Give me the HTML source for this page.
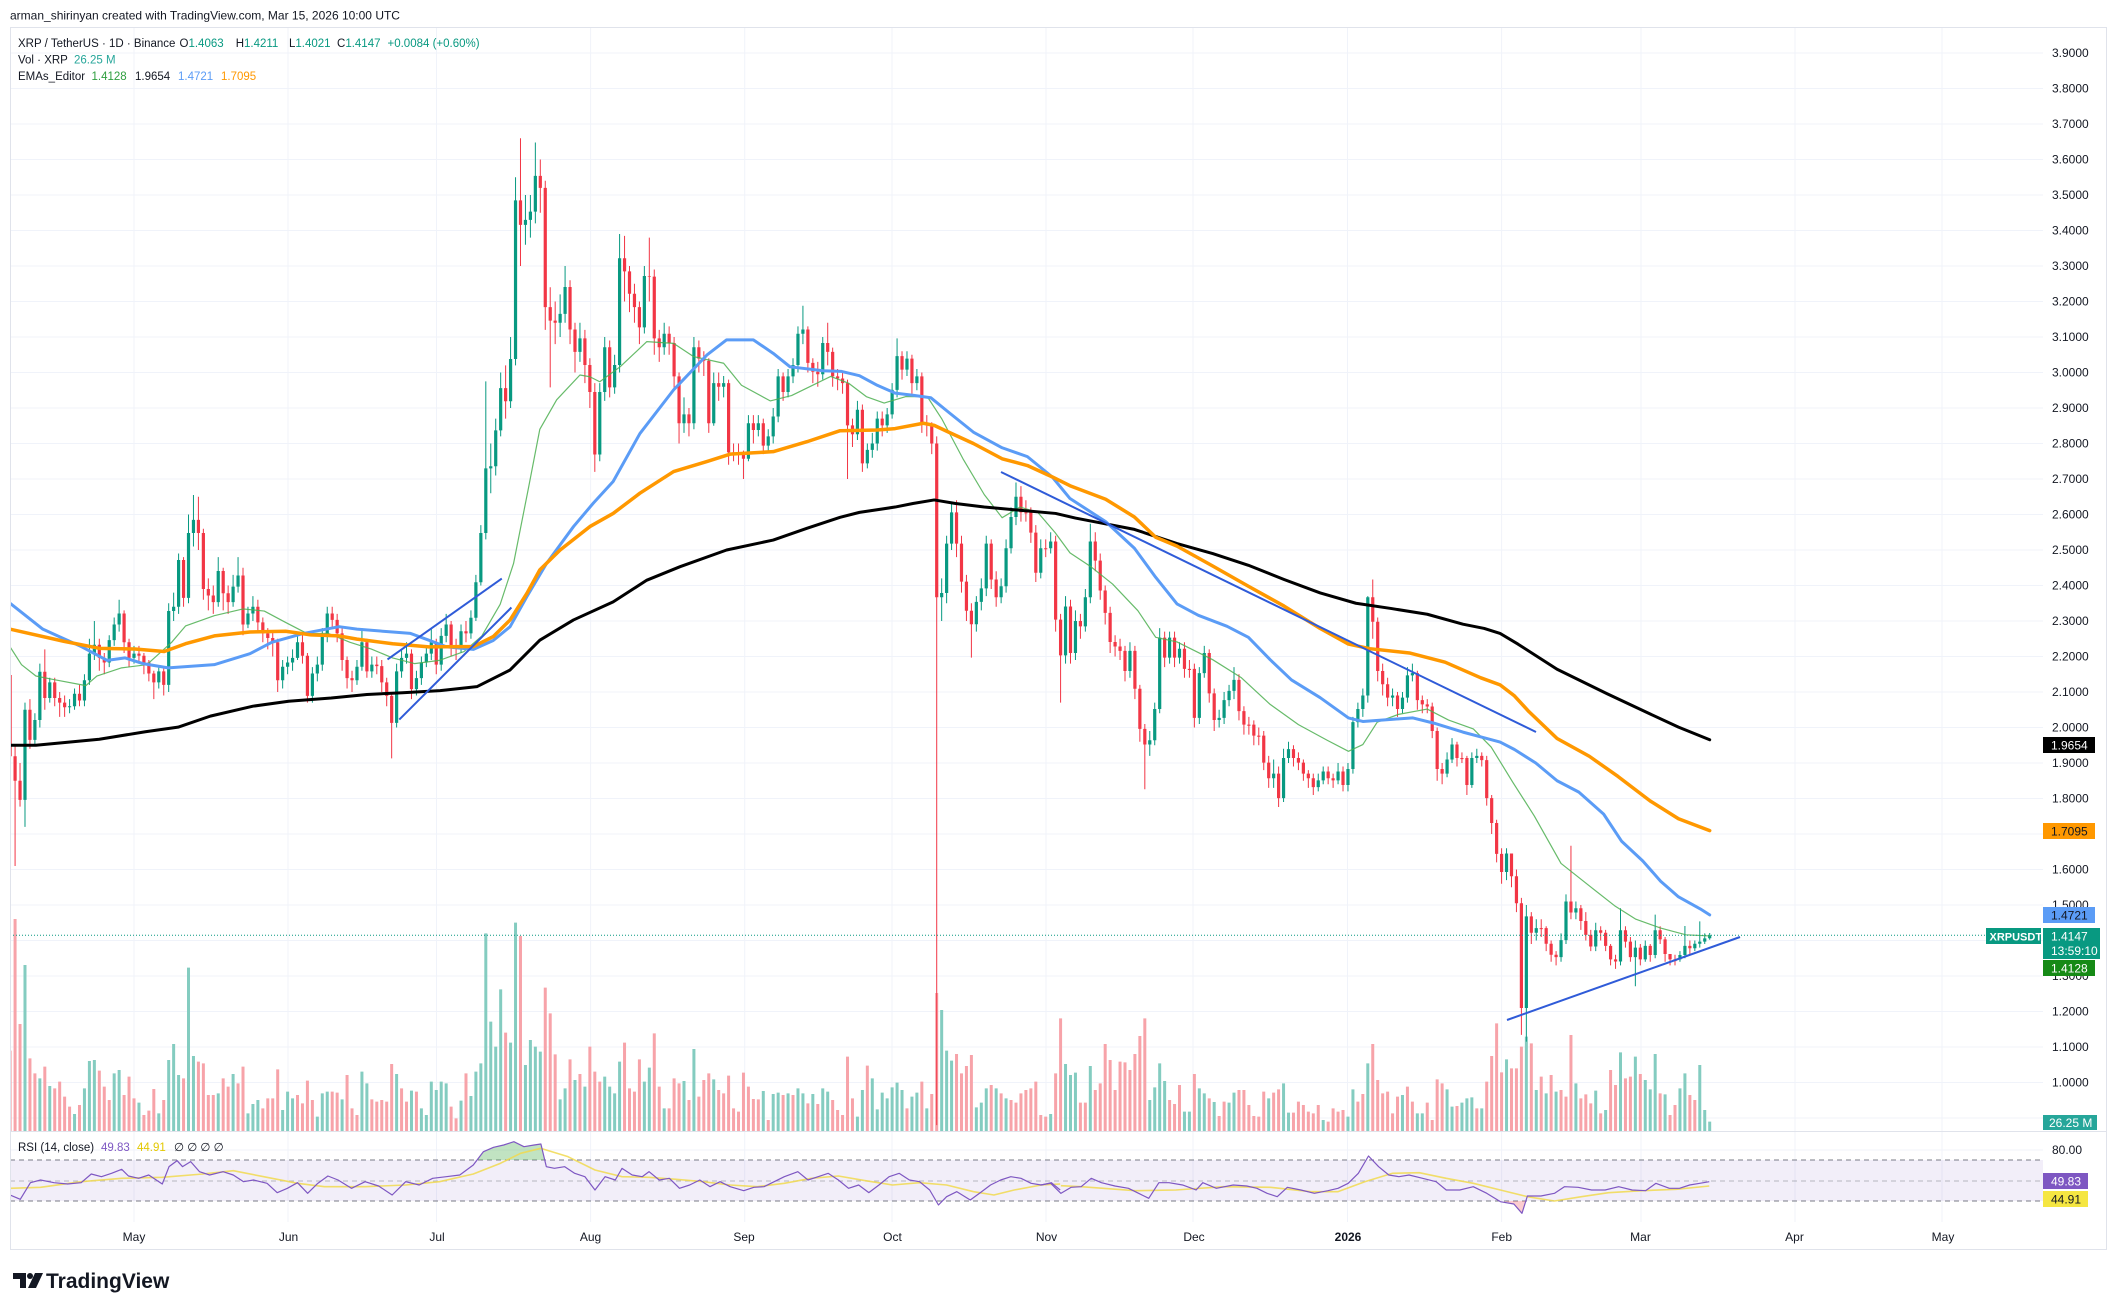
<!DOCTYPE html>
<html><head><meta charset="utf-8">
<style>
html,body{margin:0;padding:0;background:#fff;}
svg{display:block;}
text{font-family:"Liberation Sans",Arial,sans-serif;}
</style></head>
<body>
<svg width="2119" height="1311" viewBox="0 0 2119 1311" xmlns="http://www.w3.org/2000/svg">
<rect width="2119" height="1311" fill="#ffffff"/>
<defs>
<clipPath id="cm"><rect x="10" y="27" width="2033" height="1104"/></clipPath>
<clipPath id="cr"><rect x="10" y="1131" width="2033" height="90"/></clipPath>
</defs>

<!-- grid -->
<g stroke="#f0f3fa" stroke-width="1">
<line x1="10" y1="53" x2="2043" y2="53"/><line x1="10" y1="88.5" x2="2043" y2="88.5"/><line x1="10" y1="124" x2="2043" y2="124"/><line x1="10" y1="159.5" x2="2043" y2="159.5"/><line x1="10" y1="195" x2="2043" y2="195"/><line x1="10" y1="230.5" x2="2043" y2="230.5"/><line x1="10" y1="266" x2="2043" y2="266"/><line x1="10" y1="301.5" x2="2043" y2="301.5"/><line x1="10" y1="337" x2="2043" y2="337"/><line x1="10" y1="372.5" x2="2043" y2="372.5"/><line x1="10" y1="408" x2="2043" y2="408"/><line x1="10" y1="443.5" x2="2043" y2="443.5"/><line x1="10" y1="479" x2="2043" y2="479"/><line x1="10" y1="514.5" x2="2043" y2="514.5"/><line x1="10" y1="550" x2="2043" y2="550"/><line x1="10" y1="585.5" x2="2043" y2="585.5"/><line x1="10" y1="621" x2="2043" y2="621"/><line x1="10" y1="656.5" x2="2043" y2="656.5"/><line x1="10" y1="692" x2="2043" y2="692"/><line x1="10" y1="727.5" x2="2043" y2="727.5"/><line x1="10" y1="763" x2="2043" y2="763"/><line x1="10" y1="798.5" x2="2043" y2="798.5"/><line x1="10" y1="834" x2="2043" y2="834"/><line x1="10" y1="869.5" x2="2043" y2="869.5"/><line x1="10" y1="905" x2="2043" y2="905"/><line x1="10" y1="940.5" x2="2043" y2="940.5"/><line x1="10" y1="976" x2="2043" y2="976"/><line x1="10" y1="1011.5" x2="2043" y2="1011.5"/><line x1="10" y1="1047" x2="2043" y2="1047"/><line x1="10" y1="1082.5" x2="2043" y2="1082.5"/><line x1="10" y1="1118" x2="2043" y2="1118"/><line x1="10" y1="1150" x2="2043" y2="1150"/>
<line x1="134" y1="27" x2="134" y2="1222"/><line x1="288" y1="27" x2="288" y2="1222"/><line x1="436.5" y1="27" x2="436.5" y2="1222"/><line x1="590.6" y1="27" x2="590.6" y2="1222"/><line x1="744.7" y1="27" x2="744.7" y2="1222"/><line x1="892" y1="27" x2="892" y2="1222"/><line x1="1046" y1="27" x2="1046" y2="1222"/><line x1="1193" y1="27" x2="1193" y2="1222"/><line x1="1347.5" y1="27" x2="1347.5" y2="1222"/><line x1="1501.6" y1="27" x2="1501.6" y2="1222"/><line x1="1641" y1="27" x2="1641" y2="1222"/><line x1="1795" y1="27" x2="1795" y2="1222"/><line x1="1942" y1="27" x2="1942" y2="1222"/>
</g>

<!-- RSI band -->
<rect x="10" y="1160" width="2033" height="41" fill="#7e57c2" fill-opacity="0.1"/>
<g stroke="#787b86" stroke-width="1" stroke-dasharray="5,4">
<line x1="10" y1="1160" x2="2043" y2="1160"/>
<line x1="10" y1="1181" x2="2043" y2="1181" stroke-opacity="0.5"/>
<line x1="10" y1="1201" x2="2043" y2="1201"/>
</g>

<!-- volume -->
<g clip-path="url(#cm)">
<g transform="matrix(4.955 0 0 0.333333 134 900)" fill="none" stroke-width="3">
<path vector-effect="non-scaling-stroke" stroke="#84ccc0" d="M-22 693V195M-19 693V535M-17 693V558M-12 693V642M-10 693V565M-9 693V483M-8 693V480M-4 693V520M-3 693V510M1 693V608M5 693V640M7 693V480M8 693V432M9 693V525M11 693V203M12 693V468M17 693V580M20 693V522M23 693V640M24 693V612M25 693V600M30 693V630M31 693V575M32 693V595M37 693V650M38 693V580M39 693V575M42 693V598M46 693V515M47 693V550M53 693V522M56 693V572M58 693V625M59 693V645M60 693V545M61 693V570M62 693V545M63 693V550M66 693V602M68 693V588M69 693V515M70 693V490M71 693V100M72 693V365M73 693V440M74 693V268M76 693V428M77 693V68M79 693V495M80 693V420M81 693V440M82 693V455M86 693V598M87 693V565M89 693V540M91 693V560M95 693V530M96 693V560M97 693V580M98 693V485M103 693V545M104 693V503M107 693V625M111 693V543M113 693V447M117 693V538M127 693V573M129 693V582M130 693V578M132 693V580M134 693V565M135 693V580M137 693V582M139 693V565M140 693V575M146 693V650M147 693V570M149 693V535M150 693V628M151 693V578M152 693V595M153 693V562M154 693V548M155 693V570M157 693V590M158 693V578M160 693V625M163 693V330M164 693V452M165 693V482M170 693V622M171 693V608M172 693V565M174 693V565M176 693V595M185 693V642M188 693V492M189 693V525M190 693V518M193 693V498M205 693V600M206 693V562M207 693V490M208 693V543M212 693V635M213 693V635M215 693V565M216 693V580M218 693V606M221 693V608M222 693V578M229 693V595M232 693V550M233 693V638M240 693V660M245 693V650M246 693V568M249 693V490M256 693V585M259 693V640M260 693V640M265 693V568M266 693V620M268 693V608M269 693V595M270 693V592M272 693V625M277 693V478M281 693V410M283 693V570M285 693V580M287 693V575M291 693V550M295 693V572M297 693V630M300 693V457M303 693V470M305 693V540M306 693V568M307 693V462M309 693V583M312 693V565M313 693V520M316 693V495M317 693V630M318 693V665"/>
<path vector-effect="non-scaling-stroke" stroke="#f7a3a9" d="M-25 693V452M-24 693V57M-23 693V372M-21 693V475M-20 693V520M-18 693V500M-16 693V565M-15 693V545M-14 693V590M-13 693V620M-11 693V615M-7 693V512M-6 693V560M-5 693V600M-2 693V585M-1 693V530M0 693V595M2 693V645M3 693V632M4 693V567M6 693V600M10 693V535M13 693V485M14 693V490M15 693V585M16 693V585M18 693V535M19 693V560M21 693V550M22 693V500M26 693V625M27 693V595M28 693V595M29 693V508M33 693V585M34 693V610M35 693V542M36 693V600M40 693V575M41 693V578M43 693V525M44 693V625M45 693V645M48 693V598M49 693V605M50 693V600M51 693V605M52 693V492M54 693V565M55 693V605M57 693V575M64 693V620M65 693V655M67 693V520M75 693V398M78 693V108M83 693V263M84 693V340M85 693V463M88 693V478M90 693V522M92 693V440M93 693V515M94 693V545M99 693V428M100 693V565M101 693V575M102 693V478M105 693V400M106 693V560M108 693V625M109 693V535M110 693V550M112 693V600M114 693V590M115 693V540M116 693V520M118 693V570M119 693V580M120 693V527M121 693V625M122 693V635M123 693V518M124 693V560M125 693V597M126 693V598M128 693V660M131 693V585M133 693V585M136 693V610M138 693V612M141 693V600M142 693V630M143 693V645M144 693V470M145 693V595M148 693V497M156 693V625M159 693V545M161 693V582M162 693V279M166 693V462M167 693V520M168 693V498M169 693V465M173 693V555M175 693V580M177 693V600M178 693V608M179 693V580M180 693V570M181 693V565M182 693V545M183 693V645M184 693V650M186 693V520M187 693V355M191 693V608M192 693V608M194 693V570M195 693V550M196 693V432M197 693V480M198 693V570M199 693V485M200 693V487M201 693V510M202 693V462M203 693V408M204 693V355M209 693V600M210 693V612M211 693V555M214 693V522M217 693V595M219 693V648M220 693V605M223 693V570M224 693V570M225 693V615M226 693V648M227 693V650M228 693V575M230 693V578M231 693V568M234 693V638M235 693V605M236 693V615M237 693V635M238 693V640M239 693V615M241 693V665M242 693V625M243 693V635M244 693V630M247 693V605M248 693V582M250 693V432M251 693V540M252 693V580M253 693V575M254 693V640M255 693V590M257 693V560M258 693V605M261 693V608M262 693V660M263 693V538M264 693V550M267 693V618M271 693V625M273 693V545M274 693V468M275 693V370M276 693V517M278 693V505M279 693V505M280 693V440M282 693V430M284 693V530M286 693V525M288 693V570M289 693V590M290 693V405M292 693V595M293 693V583M294 693V610M296 693V640M298 693V510M299 693V555M301 693V535M302 693V530M304 693V522M308 693V580M310 693V645M311 693V615M314 693V585M315 693V600"/>
</g>
</g>

<!-- candles -->
<g clip-path="url(#cm)">
<g transform="matrix(4.955 0 0 -355 134 1437.5)" fill="none">
<path vector-effect="non-scaling-stroke" stroke="#089981" stroke-width="1" d="M-22 1.72V2.07M-20 1.95V2.04M-19 2V2.18M-17 2.07V2.14M-13 2.04V2.08M-12 2.05V2.11M-10 2.06V2.15M-9 2.12V2.25M-8 2.19V2.3M-5 2.17V2.26M-4 2.23V2.31M-3 2.27V2.36M0 2.18V2.23M5 2.11V2.17M7 2.1V2.35M8 2.3V2.38M9 2.32V2.49M11 2.35V2.6M12 2.51V2.655M17 2.34V2.48M20 2.34V2.43M21 2.38V2.48M23 2.28V2.34M24 2.3V2.37M30 2.11V2.19M31 2.15V2.2M32 2.16V2.22M33 2.19V2.27M36 2.07V2.17M37 2.13V2.2M38 2.16V2.28M39 2.24V2.34M45 2.12V2.19M46 2.16V2.28M48 2.14V2.2M53 2V2.18M54 2.14V2.22M55 2.18V2.24M57 2.09V2.16M58 2.12V2.2M59 2.17V2.23M60 2.19V2.28M62 2.16V2.28M63 2.24V2.32M66 2.21V2.29M68 2.25V2.33M69 2.3V2.43M70 2.4V2.57M71 2.53V2.975M72 2.66V2.8M73 2.71V2.87M74 2.82V3M76 2.9V3.1M77 3.02V3.55M79 3.36V3.5M80 3.38V3.5M81 3.42V3.648M86 3.1V3.22M87 3.14V3.3M90 3.03V3.14M94 2.75V2.97M95 2.92V3.1M97 2.94V3.05M98 3V3.39M103 3.11V3.3M107 3.05V3.14M111 2.83V2.93M113 2.84V3.1M117 2.85V3M119 2.93V2.99M124 2.75V2.88M126 2.82V2.88M128 2.78V2.84M129 2.8V2.9M130 2.86V3.01M132 2.93V3.01M133 2.97V3.04M134 3V3.13M135 3.08V3.188M139 2.98V3.1M146 2.81V2.92M148 2.73V2.8M149 2.76V2.83M150 2.78V2.89M152 2.83V2.9M153 2.87V2.97M154 2.93V3.096M156 2.99V3.06M158 2.95V3.01M163 2.3V2.42M164 2.35V2.54M165 2.5V2.63M170 2.27V2.37M171 2.33V2.42M172 2.37V2.54M175 2.35V2.42M176 2.38V2.53M177 2.49V2.62M178 2.57V2.69M183 2.42V2.53M185 2.49V2.55M188 2.18V2.37M190 2.19V2.33M192 2.27V2.39M193 2.35V2.574M201 2.14V2.24M205 1.92V1.99M206 1.95V2.07M207 2.04V2.28M209 2.18V2.27M211 2.18V2.24M215 2.01V2.17M216 2.14V2.23M219 2V2.05M220 2.01V2.1M221 2.06V2.12M222 2.08V2.17M230 1.83V1.91M232 1.79V1.94M233 1.9V1.96M239 1.82V1.87M240 1.84V1.89M243 1.84V1.9M245 1.82V1.9M246 1.87V2.03M247 2V2.07M248 2.03V2.11M249 2.07V2.37M254 2.06V2.11M256 2.04V2.1M257 2.07V2.17M258 2.13V2.18M265 1.86V1.93M266 1.9V1.97M270 1.83V1.93M271 1.9V1.94M277 1.57V1.66M281 1.115V1.5M283 1.4V1.46M288 1.34V1.42M289 1.39V1.53M291 1.46V1.51M295 1.37V1.45M300 1.33V1.491M303 1.271V1.4M305 1.34V1.4M307 1.35V1.473M312 1.34V1.37M313 1.35V1.441M315 1.37V1.4M316 1.38V1.454M317 1.39V1.42M318 1.4021V1.4211"/>
<path vector-effect="non-scaling-stroke" stroke="#f23645" stroke-width="1" d="M-25 1.862V2.16M-24 1.61V1.95M-23 1.777V1.9M-21 1.94V2.08M-18 2.05V2.22M-16 2.06V2.14M-15 2.03V2.1M-14 2.03V2.09M-11 2.06V2.12M-7 2.16V2.25M-6 2.15V2.21M-2 2.21V2.33M-1 2.17V2.25M1 2.18V2.23M2 2.15V2.21M3 2.13V2.19M4 2.08V2.16M6 2.09V2.17M10 2.34V2.48M13 2.5V2.65M14 2.36V2.56M15 2.33V2.42M16 2.32V2.4M18 2.33V2.45M19 2.32V2.4M22 2.26V2.45M25 2.27V2.36M26 2.24V2.31M27 2.22V2.28M28 2.2V2.27M29 2.1V2.25M34 2.18V2.26M35 2.07V2.21M40 2.28V2.34M41 2.24V2.32M42 2.16V2.28M43 2.11V2.2M44 2.1V2.16M47 2.14V2.25M49 2.15V2.2M50 2.1V2.19M51 2.06V2.14M52 1.913V2.1M56 2.08V2.22M61 2.15V2.25M64 2.2V2.3M65 2.19V2.25M67 2.24V2.3M75 2.87V3.02M78 3.3V3.66M82 3.45V3.6M83 3.12V3.54M84 2.958V3.24M85 3.08V3.2M88 3.08V3.26M89 3V3.14M91 2.97V3.12M92 2.9V3.04M93 2.72V2.97M96 2.93V3.09M99 3.2V3.385M100 3.17V3.3M101 3.14V3.25M102 3.08V3.2M104 3.2V3.38M105 3.05V3.29M106 3.03V3.12M108 3.05V3.13M109 2.95V3.1M110 2.8V3M112 2.82V2.9M114 3V3.09M115 2.99V3.06M116 2.83V3.04M118 2.92V3M120 2.74V2.98M121 2.75V2.8M122 2.74V2.8M123 2.7V2.78M125 2.8V2.88M127 2.77V2.87M131 2.92V3M136 3V3.13M137 2.97V3.04M138 2.96V3.03M140 3.02V3.14M141 2.96V3.07M142 2.95V3.01M143 2.94V3M144 2.7V2.98M145 2.79V2.87M147 2.72V2.91M151 2.82V2.89M155 2.98V3.06M157 2.94V3.05M159 2.83V3M160 2.82V2.88M161 2.77V2.86M162 0.88V2.82M166 2.48V2.64M167 2.38V2.54M168 2.3V2.43M169 2.197V2.35M173 2.39V2.53M174 2.34V2.44M179 2.58V2.68M180 2.58V2.64M181 2.52V2.62M182 2.41V2.57M184 2.48V2.53M186 2.27V2.54M187 2.07V2.32M189 2.18V2.36M191 2.25V2.32M194 2.44V2.55M195 2.36V2.49M196 2.29V2.4M197 2.21V2.34M198 2.2V2.26M199 2.19V2.25M200 2.13V2.23M202 2.08V2.23M203 1.96V2.12M204 1.826V2.01M208 2.17V2.27M210 2.17V2.27M212 2.14V2.24M213 2.14V2.19M214 2V2.18M217 2.07V2.22M218 1.99V2.11M223 2.02V2.15M224 1.98V2.06M225 1.98V2.03M226 1.95V2.02M227 1.95V2M228 1.88V1.99M229 1.83V1.92M231 1.776V1.89M234 1.89V1.95M235 1.88V1.93M236 1.85V1.91M237 1.83V1.88M238 1.81V1.87M241 1.84V1.89M242 1.83V1.87M244 1.82V1.89M250 2.25V2.417M251 2.13V2.31M252 2.09V2.18M253 2.06V2.14M255 2.03V2.1M259 2.05V2.16M260 2.04V2.09M261 2.04V2.08M262 1.97V2.07M263 1.85V2M264 1.84V1.9M267 1.89V1.96M268 1.9V1.93M269 1.81V1.92M272 1.89V1.93M273 1.78V1.92M274 1.7V1.81M275 1.62V1.74M276 1.56V1.66M278 1.55V1.63M279 1.48V1.6M280 1.134V1.52M282 1.39V1.48M284 1.41V1.46M285 1.37V1.44M286 1.34V1.4M287 1.33V1.37M290 1.46V1.667M292 1.43V1.5M293 1.4V1.48M294 1.37V1.43M296 1.4V1.44M297 1.37V1.43M298 1.33V1.39M299 1.32V1.36M301 1.38V1.44M302 1.34V1.41M304 1.33V1.39M306 1.34V1.39M308 1.39V1.44M309 1.34V1.41M310 1.33V1.36M311 1.33V1.36M314 1.36V1.4"/>
<path vector-effect="non-scaling-stroke" stroke="#089981" stroke-width="3.2" d="M-22 1.796V2.05M-20 1.965V2.021M-19 2.021V2.157M-17 2.083V2.127M-13 2.057V2.06M-12 2.06V2.095M-10 2.076V2.133M-9 2.133V2.208M-8 2.208V2.233M-5 2.183V2.246M-4 2.246V2.29M-3 2.29V2.321M0 2.196V2.208M5 2.127V2.158M7 2.12V2.328M8 2.328V2.34M9 2.34V2.472M11 2.365V2.548M12 2.548V2.585M17 2.353V2.441M20 2.353V2.397M21 2.397V2.428M23 2.29V2.321M24 2.321V2.34M30 2.133V2.171M31 2.171V2.183M32 2.183V2.196M33 2.196V2.24M36 2.089V2.152M37 2.152V2.177M38 2.177V2.258M39 2.258V2.321M45 2.133V2.171M46 2.171V2.24M48 2.158V2.177M53 2.013V2.158M54 2.158V2.196M55 2.196V2.208M57 2.108V2.139M58 2.139V2.183M59 2.183V2.208M60 2.208V2.24M62 2.177V2.258M63 2.258V2.29M66 2.221V2.271M68 2.265V2.309M69 2.309V2.409M70 2.409V2.548M71 2.548V2.73M72 2.73V2.736M73 2.736V2.837M74 2.837V2.956M76 2.919V3.038M77 3.038V3.485M79 3.416V3.43M80 3.43V3.453M81 3.453V3.554M86 3.14V3.165M87 3.165V3.241M90 3.058V3.096M94 2.769V2.945M95 2.945V3.071M97 2.958V3.021M98 3.021V3.322M103 3.127V3.272M107 3.071V3.109M111 2.857V2.882M113 2.857V3.071M117 2.857V2.97M119 2.96V2.97M124 2.757V2.857M126 2.838V2.857M128 2.794V2.82M129 2.82V2.876M130 2.876V2.989M132 2.945V2.989M133 2.989V3.021M134 3.021V3.109M135 3.109V3.121M139 2.995V3.083M146 2.826V2.895M148 2.744V2.782M149 2.782V2.8M150 2.8V2.87M152 2.851V2.882M153 2.882V2.951M154 2.951V3.046M156 3.008V3.039M158 2.97V2.989M163 2.367V2.379M164 2.379V2.518M165 2.518V2.606M170 2.291V2.354M171 2.354V2.392M172 2.392V2.518M175 2.367V2.398M176 2.398V2.505M177 2.505V2.593M178 2.593V2.65M183 2.436V2.505M185 2.505V2.524M188 2.203V2.341M190 2.21V2.3M192 2.285V2.367M193 2.367V2.524M201 2.159V2.216M205 1.952V1.964M206 1.964V2.052M207 2.052V2.253M209 2.197V2.253M211 2.197V2.222M215 2.027V2.153M216 2.153V2.21M219 2.021V2.027M220 2.027V2.077M221 2.077V2.103M222 2.103V2.134M230 1.857V1.87M232 1.801V1.914M233 1.914V1.939M239 1.832V1.851M240 1.851V1.876M243 1.851V1.876M245 1.838V1.883M246 1.883V2.015M247 2.015V2.052M248 2.052V2.09M249 2.09V2.367M254 2.084V2.09M256 2.052V2.084M257 2.084V2.147M258 2.147V2.153M265 1.87V1.91M266 1.91V1.952M270 1.838V1.914M271 1.914V1.92M277 1.593V1.645M281 1.21V1.468M283 1.422V1.435M288 1.353V1.401M289 1.401V1.51M291 1.479V1.491M295 1.383V1.429M300 1.341V1.429M303 1.353V1.38M305 1.347V1.385M307 1.359V1.429M312 1.347V1.359M313 1.359V1.385M315 1.378V1.391M316 1.391V1.397M317 1.397V1.406M318 1.4063V1.4147"/>
<path vector-effect="non-scaling-stroke" stroke="#f23645" stroke-width="3.2" d="M-25 2.148V1.919M-24 1.919V1.85M-23 1.85V1.796M-21 2.05V1.965M-18 2.157V2.083M-16 2.127V2.083M-15 2.083V2.07M-14 2.07V2.057M-11 2.095V2.076M-7 2.233V2.196M-6 2.196V2.183M-2 2.321V2.24M-1 2.24V2.196M1 2.208V2.202M2 2.202V2.183M3 2.183V2.152M4 2.152V2.127M6 2.158V2.12M10 2.472V2.365M13 2.585V2.548M14 2.548V2.39M15 2.39V2.372M16 2.372V2.353M18 2.441V2.378M19 2.378V2.353M22 2.428V2.29M25 2.34V2.296M26 2.296V2.265M27 2.265V2.252M28 2.252V2.24M29 2.24V2.133M34 2.24V2.202M35 2.202V2.089M40 2.321V2.303M41 2.303V2.265M42 2.265V2.19M43 2.19V2.139M44 2.139V2.133M47 2.24V2.158M49 2.177V2.173M50 2.173V2.127M51 2.127V2.089M52 2.089V2.013M56 2.208V2.108M61 2.24V2.177M64 2.29V2.227M65 2.227V2.221M67 2.271V2.265M75 2.956V2.919M78 3.485V3.416M82 3.554V3.52M83 3.52V3.184M84 3.184V3.146M85 3.146V3.14M88 3.241V3.121M89 3.121V3.058M91 3.096V3.021M92 3.021V2.945M93 2.945V2.769M96 3.071V2.958M99 3.322V3.285M100 3.285V3.222M101 3.222V3.184M102 3.184V3.127M104 3.272V3.27M105 3.27V3.096M106 3.096V3.071M108 3.109V3.083M109 3.083V2.989M110 2.989V2.857M112 2.882V2.857M114 3.071V3.039M115 3.039V3.033M116 3.033V2.857M118 2.97V2.96M120 2.97V2.775M121 2.775V2.772M122 2.775V2.769M123 2.769V2.757M125 2.857V2.838M127 2.857V2.794M131 2.989V2.945M136 3.121V3.027M137 3.027V3.002M138 3.002V2.995M140 3.083V3.058M141 3.058V2.989M142 2.989V2.983M143 2.983V2.97M144 2.97V2.851M145 2.851V2.826M147 2.895V2.744M151 2.87V2.851M155 3.046V3.008M157 3.039V2.97M159 2.989V2.857M160 2.857V2.851M161 2.851V2.8M162 2.8V2.367M166 2.606V2.518M167 2.518V2.411M168 2.411V2.329M169 2.329V2.291M173 2.518V2.417M174 2.417V2.367M179 2.65V2.606M180 2.606V2.603M181 2.606V2.549M182 2.549V2.436M184 2.505V2.502M186 2.524V2.304M187 2.304V2.203M189 2.341V2.21M191 2.3V2.285M194 2.524V2.47M195 2.47V2.386M196 2.386V2.323M197 2.323V2.241M198 2.241V2.228M199 2.228V2.216M200 2.216V2.159M202 2.216V2.109M203 2.109V1.996M204 1.996V1.952M208 2.253V2.197M210 2.253V2.197M212 2.222V2.165M213 2.165V2.162M214 2.165V2.027M217 2.21V2.096M218 2.096V2.021M223 2.134V2.046M224 2.046V2.008M225 2.008V2.005M226 2.008V1.977M227 1.977V1.974M228 1.977V1.901M229 1.901V1.857M231 1.87V1.801M234 1.939V1.914M235 1.914V1.901M236 1.901V1.87M237 1.87V1.857M238 1.857V1.832M241 1.876V1.857M242 1.857V1.851M244 1.876V1.838M250 2.367V2.298M251 2.298V2.159M252 2.159V2.122M253 2.122V2.084M255 2.09V2.052M259 2.153V2.077M260 2.077V2.065M261 2.065V2.059M262 2.059V1.99M263 1.99V1.883M264 1.883V1.87M267 1.952V1.914M268 1.914V1.911M269 1.914V1.838M272 1.92V1.908M273 1.908V1.801M274 1.801V1.731M275 1.731V1.644M276 1.644V1.593M278 1.645V1.581M279 1.581V1.505M280 1.505V1.21M282 1.468V1.422M284 1.435V1.432M285 1.435V1.391M286 1.391V1.36M287 1.36V1.353M290 1.51V1.479M292 1.491V1.455M293 1.455V1.416M294 1.416V1.383M296 1.429V1.422M297 1.422V1.385M298 1.385V1.347M299 1.347V1.341M301 1.429V1.397M302 1.397V1.353M304 1.38V1.347M306 1.385V1.359M308 1.429V1.403M309 1.403V1.362M310 1.362V1.347M311 1.347V1.342M314 1.385V1.378"/>
</g>
</g>

<!-- EMAs -->
<g clip-path="url(#cm)">
<g transform="matrix(4.955 0 0 -355 134 1437.5)" fill="none" stroke-linejoin="round" stroke-linecap="round">
<polyline vector-effect="non-scaling-stroke" stroke="#4caf50" stroke-opacity="0.85" stroke-width="1.2" points="-25,2.227 -22.7,2.177 -19.8,2.145 -16.2,2.135 -9.7,2.118 -7.5,2.145 -2.5,2.168 2.6,2.177 7.6,2.24 10.4,2.286 16.2,2.315 22,2.334 26.3,2.328 30.6,2.296 34.9,2.265 39.2,2.265 43.6,2.24 47.9,2.221 52.2,2.196 56.6,2.18 61.6,2.189 66.6,2.214 70.2,2.258 73.9,2.347 76.6,2.462 79.6,2.674 81.9,2.84 85.3,2.923 90,2.993 92,2.988 94,2.974 98.1,3.016 103.5,3.087 108.9,3.082 112.9,3.045 119,3.026 122.6,2.964 128.4,2.92 132.7,2.935 137.1,2.965 140.6,2.989 144.2,2.97 147.8,2.932 151.4,2.914 155.7,2.932 160.1,2.932 163,2.87 167.3,2.757 171.6,2.656 175.2,2.591 178.8,2.621 182.4,2.606 185.9,2.549 188.9,2.492 193.2,2.452 197.5,2.404 202.6,2.329 206.2,2.254 210.5,2.241 214.1,2.216 217.7,2.191 223.5,2.14 229.3,2.065 235,2.008 240.8,1.964 245.1,1.933 248,1.952 250.9,2.015 255.2,2.037 261,2.052 265.3,2.021 270.3,1.996 273.9,1.945 278.3,1.845 282.6,1.751 288,1.617 293.7,1.554 298.8,1.498 303.1,1.46 308.1,1.435 313.2,1.416 318,1.4128"/>
<polyline vector-effect="non-scaling-stroke" stroke="#000000" stroke-width="3" points="-25,1.95 -19.8,1.95 -7,1.967 2.3,1.988 8.9,2.001 15.4,2.032 24,2.06 31.2,2.074 39.8,2.083 47,2.093 54.2,2.098 61.8,2.104 69.2,2.115 75.9,2.162 81.9,2.246 88.7,2.303 96.7,2.354 103.5,2.415 110.2,2.453 119.6,2.5 129,2.528 135.8,2.561 142.5,2.592 146.4,2.606 153.6,2.621 157.2,2.631 161.5,2.641 165.8,2.631 171.6,2.621 178.8,2.612 186,2.603 190,2.59 201.9,2.558 210.5,2.518 217.7,2.49 224.9,2.457 232.1,2.417 239.4,2.379 246.6,2.35 253.8,2.335 261,2.319 268.2,2.291 272.5,2.279 275.7,2.265 279.3,2.235 287.2,2.164 297.3,2.095 306,2.038 311.7,2.001 318,1.9654"/>
<polyline vector-effect="non-scaling-stroke" stroke="#5b9cf6" stroke-width="3" points="-25,2.35 -18.4,2.277 -10.5,2.227 -5.4,2.189 -1.8,2.196 1.8,2.18 6.9,2.168 16.2,2.177 23.4,2.208 27.8,2.24 34.2,2.265 41.4,2.284 45,2.277 52.2,2.269 55.8,2.265 59.5,2.246 63.1,2.227 68.5,2.22 72.5,2.245 75.9,2.284 79.3,2.369 83.3,2.463 88.7,2.566 92.7,2.632 96.7,2.693 102.1,2.828 108.9,2.951 115.6,3.049 119.6,3.092 125,3.092 129,3.054 132.4,3.016 139.1,3.005 142.8,3.003 146.4,2.991 150,2.964 153.6,2.942 157.2,2.936 160.8,2.929 164.4,2.888 169.4,2.832 175.2,2.788 180.3,2.763 185.3,2.706 188.9,2.645 196.1,2.58 201.9,2.505 206.2,2.423 210.5,2.348 214.8,2.316 220.6,2.285 224.9,2.254 229.3,2.191 233.6,2.134 239.4,2.084 245.1,2.027 248,2.017 253.8,2.023 258.1,2.027 262.4,2.012 268.2,1.987 272.5,1.971 275.7,1.959 278.6,1.938 282.9,1.9 287.2,1.85 291.6,1.818 296.6,1.756 300.2,1.68 304.5,1.624 308.1,1.567 311.7,1.523 316.1,1.489 318,1.4721"/>
<polyline vector-effect="non-scaling-stroke" stroke="#ff9800" stroke-width="3.5" points="-25,2.277 -14.2,2.243 -7,2.223 0.2,2.221 6.1,2.214 10.4,2.236 16.2,2.258 23.4,2.269 30.6,2.271 35.7,2.261 41.4,2.258 45,2.249 52.2,2.236 59.5,2.227 68.5,2.228 72.5,2.256 75.9,2.303 79.3,2.378 81.9,2.444 86,2.5 92,2.566 96.7,2.603 102.1,2.66 108.9,2.721 115.6,2.749 120.3,2.77 129,2.777 135.8,2.805 142.5,2.836 150,2.838 153.6,2.842 159.3,2.857 161.5,2.851 164.4,2.832 169.4,2.8 175.2,2.757 180.3,2.738 185.3,2.706 188.9,2.681 196.1,2.643 201.9,2.593 206.2,2.536 210.5,2.511 217.7,2.455 224.9,2.398 232.1,2.342 239.4,2.279 245.1,2.235 249.4,2.222 257.4,2.21 264.6,2.184 271.8,2.14 275.7,2.12 278.6,2.089 281.5,2.045 287.2,1.969 293.7,1.919 299.5,1.862 306,1.793 311.7,1.743 318,1.7095"/>
</g>
</g>

<!-- trend lines -->
<g stroke="#2f5bd8" stroke-width="2" clip-path="url(#cm)">
<line x1="387.5" y1="659.4" x2="501.8" y2="578.6"/>
<line x1="399.3" y1="719.6" x2="511.4" y2="607.5"/>
<line x1="1001" y1="472" x2="1536" y2="732"/>
<line x1="1507" y1="1020" x2="1740" y2="937"/>
</g>
<line x1="10" y1="935.3" x2="1986" y2="935.3" stroke="#089981" stroke-width="1" stroke-dasharray="1,2"/>

<!-- RSI lines -->
<g clip-path="url(#cr)" fill="none" stroke-linejoin="round">
<polygon transform="matrix(0.67613 0 0 0.33333 0 900)" fill="#4caf50" fill-opacity="0.35" stroke="none" points="705,780 715,755 730,742 745,735 760,725 775,740 790,735 800,732 806,780"/>
<polygon transform="matrix(0.67613 0 0 0.33333 1000 900)" fill="#f23645" fill-opacity="0.25" stroke="none" points="745,903 760,912 772,940 778,903"/>
<polyline transform="matrix(0.67613 0 0 0.33333 0 900)" vector-effect="non-scaling-stroke" stroke="#f1d94f" stroke-opacity="0.85" stroke-width="1.6" points="15,865 60,862 120,845 180,835 240,832 300,822 345,812 390,830 440,850 480,860 540,860 600,855 650,845 700,822 740,790 770,760 800,745 840,770 880,810 920,830 960,832 1000,838 1040,845 1080,855 1120,860 1160,850 1200,835 1240,828 1280,842 1320,855 1360,848 1400,855 1440,875 1470,885 1500,870 1540,855 1568,852"/>
<polyline transform="matrix(0.67613 0 0 0.33333 1000 900)" vector-effect="non-scaling-stroke" stroke="#f1d94f" stroke-opacity="0.85" stroke-width="1.6" points="90,857 120,860 200,872 260,870 330,860 400,862 460,875 500,875 540,845 580,820 620,818 660,835 700,850 740,870 780,890 820,903 860,890 900,878 950,872 1000,868 1049,858"/>
<polyline transform="matrix(0.67613 0 0 0.33333 0 900)" vector-effect="non-scaling-stroke" stroke="#7e57c2" stroke-width="1.2" points="15,885 30,898 45,848 60,840 80,848 100,852 120,848 135,822 150,830 165,820 180,808 190,828 205,835 220,825 240,852 250,800 262,782 270,800 282,785 295,815 310,825 330,815 345,825 360,845 375,840 395,850 410,878 425,865 440,848 455,880 470,850 485,828 500,840 520,865 540,845 560,858 580,885 600,845 620,855 640,835 660,830 680,825 700,795 715,755 730,742 745,735 760,725 775,740 790,735 800,732 808,800 820,805 835,800 850,820 865,830 880,870 895,830 910,840 920,805 935,825 950,830 960,815 975,840 990,835 1005,865 1020,855 1035,840 1050,860 1065,845 1080,860 1100,872 1115,862 1130,860 1145,845 1160,830 1180,815 1195,840 1210,830 1225,820 1240,840 1255,865 1270,855 1285,878 1300,855 1315,830 1330,820 1345,840 1360,845 1375,870 1388,915 1400,890 1415,875 1435,900 1450,878 1465,855 1480,840 1495,830 1510,835 1525,850 1540,855 1555,848 1568,870"/>
<polyline transform="matrix(0.67613 0 0 0.33333 1000 900)" vector-effect="non-scaling-stroke" stroke="#7e57c2" stroke-width="1.2" points="60,855 75,850 90,880 105,862 120,860 135,835 150,848 170,858 190,865 205,880 220,895 235,848 250,848 270,855 290,870 300,848 320,865 345,855 365,858 380,865 395,880 410,890 425,862 445,870 465,880 485,872 500,865 515,850 530,820 545,768 560,800 575,825 590,830 605,825 625,835 645,845 660,870 680,870 700,860 720,880 740,905 760,912 772,940 780,888 800,888 820,880 835,860 855,862 875,870 895,870 915,860 935,870 955,872 970,850 990,865 1005,865 1020,855 1035,850 1049,845"/>
</g>

<!-- frame -->
<rect x="10.5" y="27.5" width="2096" height="1222" fill="none" stroke="#e0e3eb" stroke-width="1"/>
<line x1="10" y1="1131.5" x2="2106" y2="1131.5" stroke="#e0e3eb" stroke-width="1"/>

<!-- top text -->
<text x="10" y="19.5" font-size="12" fill="#131722">arman_shirinyan created with TradingView.com, Mar 15, 2026 10:00 UTC</text>

<!-- legend -->
<g font-size="11.5" fill="#131722">
<text x="18" y="47">XRP / TetherUS · 1D · Binance</text>
<text x="179.5" y="47">O<tspan fill="#089981">1.4063</tspan></text>
<text x="235.7" y="47">H<tspan fill="#089981">1.4211</tspan></text>
<text x="289" y="47">L<tspan fill="#089981">1.4021</tspan></text>
<text x="337" y="47">C<tspan fill="#089981">1.4147</tspan></text>
<text x="387.5" y="47" fill="#089981">+0.0084 (+0.60%)</text>
<text x="18" y="63.5">Vol · XRP</text>
<text x="74" y="63.5" fill="#26a69a">26.25 M</text>
<text x="18" y="80">EMAs_Editor</text>
<text x="91.5" y="80" fill="#2e9e3e">1.4128</text>
<text x="135" y="80" fill="#131722">1.9654</text>
<text x="178" y="80" fill="#5b9cf6">1.4721</text>
<text x="221" y="80" fill="#ff9800">1.7095</text>
</g>

<!-- price axis labels -->
<g font-size="12" fill="#131722">
<text x="2052" y="57">3.9000</text>
<text x="2052" y="92.5">3.8000</text>
<text x="2052" y="128">3.7000</text>
<text x="2052" y="163.5">3.6000</text>
<text x="2052" y="199">3.5000</text>
<text x="2052" y="234.5">3.4000</text>
<text x="2052" y="270">3.3000</text>
<text x="2052" y="305.5">3.2000</text>
<text x="2052" y="341">3.1000</text>
<text x="2052" y="376.5">3.0000</text>
<text x="2052" y="412">2.9000</text>
<text x="2052" y="447.5">2.8000</text>
<text x="2052" y="483">2.7000</text>
<text x="2052" y="518.5">2.6000</text>
<text x="2052" y="554">2.5000</text>
<text x="2052" y="589.5">2.4000</text>
<text x="2052" y="625">2.3000</text>
<text x="2052" y="660.5">2.2000</text>
<text x="2052" y="696">2.1000</text>
<text x="2052" y="731.5">2.0000</text>
<text x="2052" y="767">1.9000</text>
<text x="2052" y="802.5">1.8000</text>
<text x="2052" y="838">1.7000</text>
<text x="2052" y="873.5">1.6000</text>
<text x="2052" y="909">1.5000</text>
<text x="2052" y="944.5">1.4000</text>
<text x="2052" y="980">1.3000</text>
<text x="2052" y="1015.5">1.2000</text>
<text x="2052" y="1051">1.1000</text>
<text x="2052" y="1086.5">1.0000</text>
<text x="2052" y="1154">80.00</text>
</g>

<!-- price boxes -->
<rect x="2043" y="737" width="52" height="16" fill="#000000"/>
<text x="2051" y="749.5" font-size="12" fill="#ffffff">1.9654</text>
<rect x="2043" y="823" width="52" height="16" fill="#ff9800"/>
<text x="2051" y="835.5" font-size="12" fill="#131722">1.7095</text>
<rect x="2043" y="907" width="52" height="16" fill="#5b9cf6"/>
<text x="2051" y="919.5" font-size="12" fill="#131722">1.4721</text>
<rect x="1986" y="928" width="55" height="16" fill="#089981"/>
<text x="1989.5" y="940.5" font-size="11" font-weight="bold" fill="#ffffff">XRPUSDT</text>
<rect x="2043" y="928" width="57" height="31" fill="#089981"/>
<text x="2051" y="940.5" font-size="12" fill="#ffffff">1.4147</text>
<text x="2051" y="955" font-size="12" fill="#ffffff">13:59:10</text>
<rect x="2043" y="960" width="52" height="16" fill="#168a16"/>
<text x="2051" y="972.5" font-size="12" fill="#ffffff">1.4128</text>
<rect x="2043" y="1115" width="54" height="15" fill="#26a69a"/>
<text x="2049" y="1127" font-size="12" fill="#ffffff">26.25 M</text>
<rect x="2043" y="1173" width="45" height="16" fill="#7e57c2"/>
<text x="2051" y="1185.5" font-size="12" fill="#ffffff">49.83</text>
<rect x="2043" y="1191" width="45" height="16" fill="#f5e642"/>
<text x="2051" y="1203.5" font-size="12" fill="#131722">44.91</text>

<!-- RSI legend -->
<g font-size="11.5">
<text x="18" y="1151" fill="#131722">RSI (14, close)</text>
<text x="101" y="1151" fill="#7e57c2">49.83</text>
<text x="137" y="1151" fill="#e3c800">44.91</text>
<text x="174" y="1151" fill="#131722">∅ ∅ ∅ ∅</text>
</g>

<!-- time axis -->
<g font-size="12" fill="#131722" text-anchor="middle">
<text x="134" y="1241">May</text>
<text x="288.5" y="1241">Jun</text>
<text x="437" y="1241">Jul</text>
<text x="590.5" y="1241">Aug</text>
<text x="744" y="1241">Sep</text>
<text x="892.5" y="1241">Oct</text>
<text x="1046.5" y="1241">Nov</text>
<text x="1194" y="1241">Dec</text>
<text x="1348" y="1241" font-weight="bold">2026</text>
<text x="1501.7" y="1241">Feb</text>
<text x="1640.5" y="1241">Mar</text>
<text x="1794.5" y="1241">Apr</text>
<text x="1943" y="1241">May</text>
</g>

<!-- TradingView logo -->
<g fill="#131722">
<path d="M13 1273 h13 v15 h-6 v-9 h-7 z"/>
<circle cx="30" cy="1276" r="3"/>
<path d="M35 1273 h8 l-7 15 h-8 z"/>
</g>
<text x="46" y="1288" font-size="21" font-weight="bold" fill="#131722">TradingView</text>
</svg>
</body></html>
